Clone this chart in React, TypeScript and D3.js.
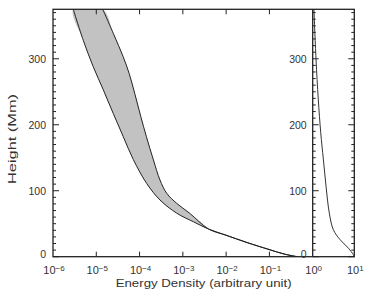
import React from "react";
import * as d3 from "d3";

// Left panel: band of energy density vs height
const lowerH = [375, 328, 288, 253, 217, 182, 147, 111, 86, 66, 53, 42];
const lowerE = [2.94e-6, 5.0e-6, 8.5e-6, 1.45e-5, 2.47e-5, 4.2e-5, 7.2e-5, 1.46e-4, 2.96e-4, 7.2e-4, 1.75e-3, 3.9e-3];
const upperH = [375, 338.6, 303.2, 278, 247.7, 212.2, 181.9, 146.6, 116.3, 96.1, 80.9, 65.8, 42];
const upperE = [1.41e-5, 2.47e-5, 4.17e-5, 5.73e-5, 7.72e-5, 1.07e-4, 1.44e-4, 2.09e-4, 2.96e-4, 4.24e-4, 7.2e-4, 1.44e-3, 3.9e-3];
const tailH = [32.6, 21.5, 10.9, 4.1, 0];
const tailE = [9.93e-3, 3.03e-2, 9.8e-2, 0.217, 0.435];

// Right panel: ratio vs height
const ratioH = [375, 300, 239, 188, 148, 107, 66, 41, 26, 13, 3, 0];
const ratioV = [1.07, 1.2, 1.36, 1.56, 1.8, 2.09, 2.51, 3.13, 4.53, 7.2, 9.5, 10];

const leftExps = [-6, -5, -4, -3, -2, -1];
const rightExps = [0, 1];
const yMajor = [0, 100, 200, 300];

const W = 390, H = 297;
const X0 = 53, X1 = 312.7, X2 = 354.3, YT = 9.3, YB = 256.7;

export default function App() {
  const xL = d3.scaleLog().domain([1e-6, 1]).range([X0, X1]);
  const xR = d3.scaleLog().domain([1, 10]).range([X1, X2]);
  const y = d3.scaleLinear().domain([0, 375]).range([YB, YT]);

  const lower = lowerH.map((h, i) => [xL(lowerE[i]), y(h)] as [number, number]);
  const upper = upperH.map((h, i) => [xL(upperE[i]), y(h)] as [number, number]);
  const tail = tailH.map((h, i) => [xL(tailE[i]), y(h)] as [number, number]);

  const line = d3.line().curve(d3.curveCatmullRom.alpha(0.5));
  const lowerPath = line([...lower, ...tail]) || "";
  const upperPath = line([...upper, ...tail]) || "";
  const bandPts = [...lower, ...upper.slice(0, -1).reverse()];
  const bandPath = (d3.line().curve(d3.curveCatmullRomClosed.alpha(0.5))(bandPts) || "");

  const ratio = ratioH.map((h, i) => [xR(ratioV[i]), y(h)] as [number, number]);
  const ratioPath = line(ratio) || "";

  const yMinor = d3.range(0, 376, 10);
  const font = "'Liberation Sans', Arial, sans-serif";
  const txt = "#333";

  return (
    <svg width={W} height={H} style={{ position: "absolute", left: 0, top: 0, background: "#fff" }}
      fontFamily={font}>
      <defs>
        <clipPath id="clipL"><rect x={X0} y={YT} width={X1 - X0} height={YB - YT} /></clipPath>
        <clipPath id="clipR"><rect x={X1} y={YT} width={X2 - X1} height={YB - YT} /></clipPath>
      </defs>
      <g clipPath="url(#clipL)">
        <path d={bandPath} fill="#c2c2c2" stroke="none" />
        <path d={lowerPath} fill="none" stroke="#222" strokeWidth={1} />
        <path d={upperPath} fill="none" stroke="#222" strokeWidth={1} />
      </g>
      <g clipPath="url(#clipR)">
        <path d={ratioPath} fill="none" stroke="#333" strokeWidth={1} />
      </g>

      {/* frames */}
      <rect x={X0} y={YT} width={X2 - X0} height={YB - YT} fill="none" stroke="#222" strokeWidth={1.3} />
      <line x1={X1} x2={X1} y1={YT} y2={YB} stroke="#222" strokeWidth={1.3} />

      {/* y minor/major ticks */}
      {yMinor.map((v) => {
        const major = v % 100 === 0;
        const len = major ? 6 : 3;
        const yy = y(v);
        return (
          <g key={v} stroke="#222" strokeWidth={1}>
            <line x1={X0} x2={X0 + len} y1={yy} y2={yy} />
            <line x1={X1} x2={X1 + len} y1={yy} y2={yy} />
            <line x1={X2} x2={X2 - len} y1={yy} y2={yy} />
          </g>
        );
      })}
      {yMajor.map((v) => (
        <g key={v} fontSize={10.5} fill={txt} textAnchor="end">
          <text x={X0 - 7} y={y(v) + (v === 0 ? 1.3 : 3.8)}>{v}</text>
          <text x={X1 - 6} y={y(v) + (v === 0 ? 1.3 : 3.8)}>{v}</text>
        </g>
      ))}

      {/* x ticks */}
      {leftExps.slice(1).map((e) => {
        const xx = xL(Math.pow(10, e));
        return (
          <g key={e} stroke="#222" strokeWidth={1}>
            <line x1={xx} x2={xx} y1={YB} y2={YB - 5} />
            <line x1={xx} x2={xx} y1={YT} y2={YT + 5} />
          </g>
        );
      })}
      {leftExps.map((e) => {
        const xx = xL(Math.pow(10, e));
        return (
          <text key={e} x={xx + 1} y={274} fontSize={11} fill={txt} textAnchor="middle">
            10<tspan dy={-3.5} fontSize={8}>{"\u2212" + Math.abs(e)}</tspan>
          </text>
        );
      })}
      {rightExps.map((e) => {
        const xx = xR(Math.pow(10, e));
        return (
          <text key={"r" + e} x={xx + 1} y={274} fontSize={11} fill={txt} textAnchor="middle">
            10<tspan dy={-3.5} fontSize={8}>{String(e)}</tspan>
          </text>
        );
      })}

      <text x={(X0 + X2) / 2} y={287} fontSize={11} fill={txt} textAnchor="middle"
        textLength={176} lengthAdjust="spacingAndGlyphs">
        Energy Density (arbitrary unit)
      </text>
      <text transform={`translate(16,139) rotate(-90)`} fontSize={11.5} fill={txt} textAnchor="middle"
        textLength={90} lengthAdjust="spacingAndGlyphs">
        Height (Mm)
      </text>
    </svg>
  );
}
